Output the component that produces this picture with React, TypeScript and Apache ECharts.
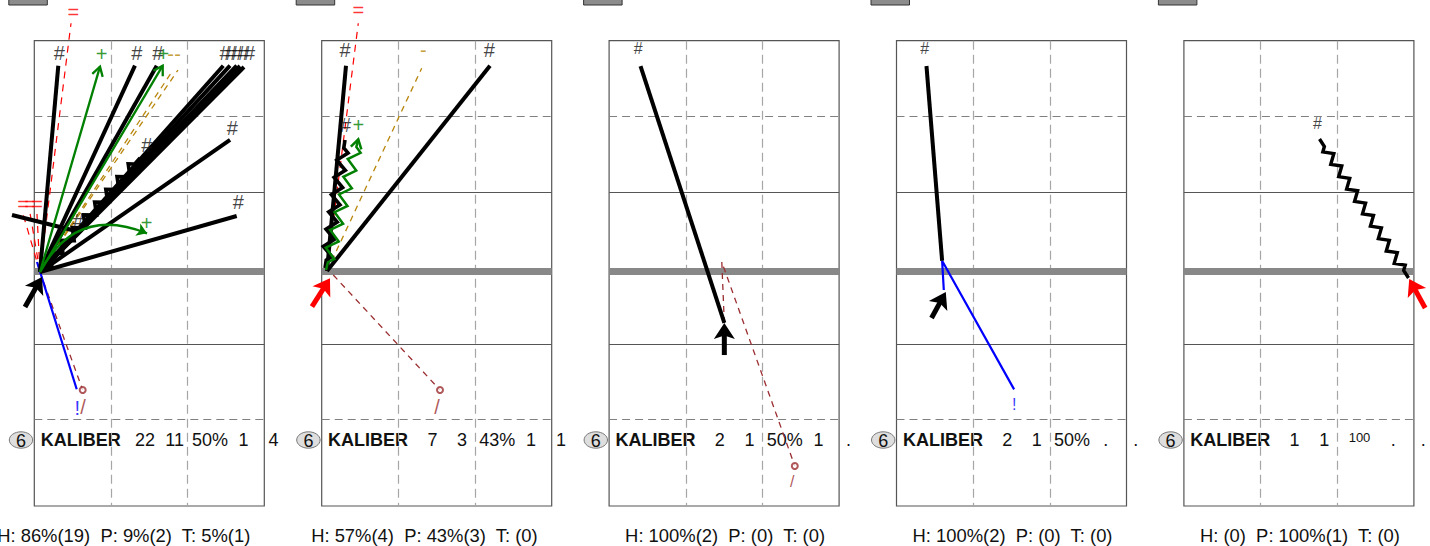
import React, { useEffect, useRef } from 'react';
import * as echarts from 'echarts';

// ---------- data ----------
const PLAYER = 'KALIBER';
const JERSEY = '6';
const STAT_ROWS = [
  ['22', '11', '50%', '1', '4'],
  ['7', '3', '43%', '1', '1'],
  ['2', '1', '50%', '1', '.'],
  ['2', '1', '50%', '.', '.'],
  ['1', '1', '100', '.', '.'],
];
const FOOTERS = [
  'H: 86%(19)  P: 9%(2)  T: 5%(1)',
  'H: 57%(4)  P: 43%(3)  T: (0)',
  'H: 100%(2)  P: (0)  T: (0)',
  'H: 100%(2)  P: (0)  T: (0)',
  'H: (0)  P: 100%(1)  T: (0)',
];
const COURT_X_MAX = 3;
const COURT_Y_MAX = 6.14;
const DASHED_COURT_Y = [1, 5];
const SOLID_COURT_Y = [2, 4];
const GOAL_LINE_Y = [3.045];

// [panel, x0, y0, x1, y1]
const GOAL_SHOTS = [
  [0, 0.074, 3.052, 0.313, 0.33],
  [0, 0.074, 3.052, 1.313, 0.33],
  [0, 0.074, 3.052, 1.597, 0.33],
  [0, 0.074, 3.052, 2.465, 0.33],
  [0, 0.074, 3.052, 2.553, 0.33],
  [0, 0.074, 3.052, 2.64, 0.33],
  [0, 0.074, 3.052, 2.683, 0.334],
  [0, 0.074, 3.052, 2.735, 0.347],
  [0, 0.074, 3.052, 2.553, 1.31],
  [0, 0.074, 3.052, 2.64, 2.313],
  [0, -0.291, 2.3, 0.596, 2.524],
  [1, 0.069, 3.039, 0.317, 0.33],
  [1, 0.069, 3.039, 2.195, 0.33],
  [2, 1.503, 3.725, 0.41, 0.334],
  [3, 0.595, 2.904, 0.391, 0.334],
];
const GOAL_ZIGZAGS = [
  [0, 0.074, 3.052, 1.379, 1.548],
  [1, 0.043, 3.0, 0.304, 1.31],
  [4, 2.93, 3.131, 1.769, 1.297],
];
const GREEN_ZIGZAGS = [[1, 0.056, 3.026, 0.477, 1.301]];
const GREEN_ARROWS = [
  [0, 0.074, 3.052, 0.857, 0.343],
  [0, 0.074, 3.052, 1.675, 0.33],
];
const GREEN_CURVES = [[0, 0.074, 3.052, 1.47, 2.542]];
const GOLD_DASHED = [
  [0, 0.074, 3.052, 1.809, 0.387],
  [0, 0.074, 3.052, 1.874, 0.387],
  [1, 0.069, 3.039, 1.304, 0.364],
];
const RED_DASHED = [
  [0, 0.074, 3.052, 0.479, -0.23],
  [0, 0.074, 3.052, -0.147, 2.287],
  [0, 0.074, 3.052, -0.056, 2.274],
  [0, 0.074, 3.052, 0.035, 2.287],
  [1, 0.069, 3.039, 0.477, -0.23],
];
// [panel, points]
const BLUE_PASSES = [
  [0, [[0.035, 2.92], [0.553, 4.6]]],
  [3, [[0.617, 3.29], [0.595, 2.904], [1.534, 4.601]]],
];
const BROWN_DASHED = [
  [0, [[0.074, 3.052], [0.631, 4.609]]],
  [1, [[0.151, 3.092], [1.543, 4.609]]],
  [2, [[1.503, 3.725], [1.47, 2.92], [2.422, 5.612]]],
];
const SHOOTER_ARROWS_BLACK = [
  [0, -0.121, 3.514, 0.1, 3.118],
  [2, 1.503, 4.148, 1.503, 3.725],
  [3, 0.457, 3.659, 0.643, 3.316],
];
const SHOOTER_ARROWS_RED = [
  [1, -0.127, 3.51, 0.108, 3.135],
  [4, 3.147, 3.527, 2.939, 3.144],
];
// [panel, x, y, text]
const MARK_LABELS = [
  [0, 0.326, 0.162, '#'], [0, 0.879, 0.179, '+'], [0, 1.336, 0.162, '#'], [0, 1.61, 0.162, '#'],
  [0, 1.683, 0.176, '+'], [0, 1.777, 0.176, '-'], [0, 1.868, 0.176, '-'],
  [0, 2.487, 0.156, '#'], [0, 2.566, 0.156, '#'], [0, 2.644, 0.156, '#'], [0, 2.729, 0.156, '#'], [0, 2.807, 0.156, '#'],
  [0, 1.466, 1.376, '#'], [0, 2.583, 1.148, '#'], [0, 2.661, 2.125, '#'], [0, 0.57, 2.379, '#'],
  [0, 1.466, 2.41, '+'], [0, 0.509, -0.375, '='], [0, -0.147, 2.155, '='], [0, -0.056, 2.155, '='],
  [0, 0.035, 2.155, '='], [0, 0.561, 4.847, '!'], [0, 0.637, 4.84, '/'],
  [1, 0.304, 0.123, '#'], [1, 2.186, 0.123, '#'], [1, 1.325, 0.123, '-'], [1, 0.477, -0.4, '='],
  [1, 0.31, 1.112, '#'], [1, 0.477, 1.112, '+'], [1, 1.504, 4.834, '/'],
  [2, 0.378, 0.106, '#'], [2, 2.387, 5.823, '/'],
  [3, 0.369, 0.106, '#'], [3, 1.534, 4.807, '!'],
  [4, 1.743, 1.091, '#'],
];

// ---------- styles / layout ----------
const FONT = "'Liberation Sans', Arial, Helvetica, sans-serif";
const LEFT0 = 34.3;
const STEP = 287.4;
const TOP = 40.7;
const BOX_W = 230;
const BOX_H = 465.3;
const GREEN = '#008000';
const GOLD = '#B8860B';
const RED = '#FF0000';
const BLUE = '#0000FF';
const BROWN = '#9B2D30';
const LABEL_COLORS: any = { '#': '#111', '+': GREEN, '-': GOLD, '=': RED, '!': BLUE, '/': BROWN };
const STAT_OFFSETS = [110.7, 140.3, 175.6, 209.3, 239.3];

function geom(api: any) {
  const a = api.coord([api.value(0), api.value(1)]);
  const b = api.coord([api.value(2), api.value(3)]);
  const dx = b[0] - a[0];
  const dy = b[1] - a[1];
  const len = Math.hypot(dx, dy) || 1;
  const ux = dx / len, uy = dy / len, nx = -uy, ny = ux;
  const at = (s: number, o: number) => [a[0] + ux * s + nx * o, a[1] + uy * s + ny * o];
  return { len, at };
}

function zigzagRender(color: string, width: number, amp: number, half: number, lead: number, head: number) {
  return (params: any, api: any) => {
    const { len, at } = geom(api);
    const body = Math.max(len - 2 * lead, 1);
    const n = Math.max(2, Math.round(body / half));
    const step = body / n;
    const pts: any[] = [at(0, 0), at(lead, 0)];
    for (let k = 0; k < n; k++) pts.push(at(lead + (k + 0.5) * step, (k % 2 === 0 ? 1 : -1) * amp));
    pts.push(at(len - lead, 0), at(len, 0));
    const children: any[] = [
      { type: 'polyline', shape: { points: pts }, style: { stroke: color, lineWidth: width, fill: 'none', lineJoin: 'miter' } },
    ];
    if (head > 0) {
      children.push({
        type: 'polyline',
        shape: { points: [at(len - head, head * 0.6), at(len, 0), at(len - head, -head * 0.6)] },
        style: { stroke: color, lineWidth: width, fill: 'none' },
      });
    }
    return { type: 'group', children };
  };
}

function chevronArrowRender(color: string, width: number, head: number) {
  return (params: any, api: any) => {
    const { len, at } = geom(api);
    const p0 = at(0, 0), p1 = at(len, 0);
    return {
      type: 'group',
      children: [
        { type: 'line', shape: { x1: p0[0], y1: p0[1], x2: p1[0], y2: p1[1] }, style: { stroke: color, lineWidth: width } },
        {
          type: 'polyline',
          shape: { points: [at(len - head, head * 0.6), p1, at(len - head, -head * 0.6)] },
          style: { stroke: color, lineWidth: width, fill: 'none' },
        },
      ],
    };
  };
}

function bigArrowRender(color: string) {
  const hl = 16, hw = 10.5, notch = 0.22;
  return (params: any, api: any) => {
    const { len, at } = geom(api);
    const p0 = at(0, 0), p1 = at(len - hl * 0.6, 0);
    return {
      type: 'group',
      children: [
        { type: 'line', shape: { x1: p0[0], y1: p0[1], x2: p1[0], y2: p1[1] }, style: { stroke: color, lineWidth: 5 } },
        {
          type: 'polygon',
          shape: { points: [at(len, 0), at(len - hl, hw), at(len - hl * (1 - notch), 0), at(len - hl, -hw)] },
          style: { fill: color },
        },
      ],
    };
  };
}

function buildOption() {
  const grid: any[] = [];
  const xAxis: any[] = [];
  const yAxis: any[] = [];
  const series: any[] = [];
  const graphic: any[] = [];

  for (let i = 0; i < 5; i++) {
    const L = LEFT0 + STEP * i;
    grid.push({ left: L, top: TOP, width: BOX_W, height: BOX_H, show: true, borderColor: '#555', borderWidth: 1.2, backgroundColor: 'transparent' });
    xAxis.push({
      gridIndex: i, type: 'value', min: 0, max: COURT_X_MAX, interval: 1,
      axisLine: { show: false }, axisTick: { show: false }, axisLabel: { show: false },
      splitLine: { show: true, showMinLine: false, showMaxLine: false, lineStyle: { color: '#a6a6a6', width: 1.2, type: [9, 5] } },
    });
    yAxis.push({
      gridIndex: i, type: 'value', min: 0, max: COURT_Y_MAX, inverse: true,
      axisLine: { show: false }, axisTick: { show: false }, axisLabel: { show: false }, splitLine: { show: false },
    });

    const ax = { xAxisIndex: i, yAxisIndex: i };
    const pick = (rows: any[]) => rows.filter((r) => r[0] === i);
    const court = (y: number) => ({ coords: [[0, y], [COURT_X_MAX, y]] });
    const linesBase = { type: 'lines', coordinateSystem: 'cartesian2d', ...ax, silent: true, clip: false, symbol: 'none' };
    const seg = (r: any) => ({ coords: [[r[1], r[2]], [r[3], r[4]]] });

    series.push({ ...linesBase, z: 1, lineStyle: { color: '#808080', width: 1, type: [8, 5], opacity: 1 }, data: DASHED_COURT_Y.map(court) });
    series.push({ ...linesBase, z: 1, lineStyle: { color: '#555', width: 1.2, opacity: 1 }, data: SOLID_COURT_Y.map(court) });
    series.push({ ...linesBase, z: 1, lineStyle: { color: '#888', width: 7, opacity: 1 }, data: GOAL_LINE_Y.map(court) });

    series.push({ ...linesBase, z: 2, lineStyle: { color: RED, width: 1.2, type: [7, 6], opacity: 1 }, data: pick(RED_DASHED).map(seg) });
    series.push({ ...linesBase, z: 2, lineStyle: { color: GOLD, width: 1.3, type: [6, 5], opacity: 1 }, data: pick(GOLD_DASHED).map(seg) });
    series.push({ ...linesBase, z: 2, polyline: true, lineStyle: { color: BROWN, width: 1.3, type: [6, 5], opacity: 1 }, data: pick(BROWN_DASHED).map((r) => ({ coords: r[1] })) });
    series.push({
      type: 'scatter', ...ax, silent: true, clip: false, z: 2, symbol: 'emptyCircle', symbolSize: 6,
      itemStyle: { color: BROWN, borderWidth: 1 },
      data: pick(BROWN_DASHED).map((r) => r[1][r[1].length - 1]),
    });
    series.push({ ...linesBase, z: 2, polyline: true, lineStyle: { color: BLUE, width: 2.2, opacity: 1 }, data: pick(BLUE_PASSES).map((r) => ({ coords: r[1] })) });

    series.push({ ...linesBase, z: 3, lineStyle: { color: '#000', width: 4, opacity: 1 }, data: pick(GOAL_SHOTS).map(seg) });
    series.push({
      type: 'custom', coordinateSystem: 'cartesian2d', ...ax, silent: true, clip: false, z: 3,
      encode: { x: [0, 2], y: [1, 3] },
      renderItem: i === 4 ? zigzagRender('#000', 3.4, 4.2, 7.5, 9, 0) : zigzagRender('#000', 3.6, 5, 8.5, 8, 0),
      data: pick(GOAL_ZIGZAGS).map((r) => r.slice(1)),
    });

    series.push({
      type: 'custom', coordinateSystem: 'cartesian2d', ...ax, silent: true, clip: false, z: 4,
      encode: { x: [0, 2], y: [1, 3] },
      renderItem: zigzagRender(GREEN, 2.5, 5.5, 9, 8, 9),
      data: pick(GREEN_ZIGZAGS).map((r) => r.slice(1)),
    });
    series.push({
      type: 'custom', coordinateSystem: 'cartesian2d', ...ax, silent: true, clip: false, z: 4,
      encode: { x: [0, 2], y: [1, 3] },
      renderItem: chevronArrowRender(GREEN, 2.3, 9),
      data: pick(GREEN_ARROWS).map((r) => r.slice(1)),
    });
    series.push({
      ...linesBase, z: 4, symbol: ['none', 'arrow'], symbolSize: 10,
      lineStyle: { color: GREEN, width: 2.5, opacity: 1, curveness: 0.45 },
      data: pick(GREEN_CURVES).map(seg),
    });

    series.push({
      type: 'custom', coordinateSystem: 'cartesian2d', ...ax, silent: true, clip: false, z: 5,
      encode: { x: [0, 2], y: [1, 3] },
      renderItem: bigArrowRender('#000'),
      data: pick(SHOOTER_ARROWS_BLACK).map((r) => r.slice(1)),
    });
    series.push({
      type: 'custom', coordinateSystem: 'cartesian2d', ...ax, silent: true, clip: false, z: 5,
      encode: { x: [0, 2], y: [1, 3] },
      renderItem: bigArrowRender('#FF0000'),
      data: pick(SHOOTER_ARROWS_RED).map((r) => r.slice(1)),
    });

    series.push({
      type: 'scatter', ...ax, silent: true, clip: false, z: 6, symbol: 'circle', symbolSize: 1,
      itemStyle: { color: 'rgba(0,0,0,0)' },
      label: { show: true, position: 'inside', formatter: '{b}', fontFamily: FONT, fontSize: i < 2 ? 20 : 16 },
      data: pick(MARK_LABELS).map((r) => ({ name: r[3], value: [r[1], r[2]], label: { color: LABEL_COLORS[r[3]] } })),
    });

    // decorations and texts
    graphic.push({ type: 'rect', silent: true, shape: { x: L - 25.5, y: -10, width: 38.5, height: 15 }, style: { fill: '#8c8c8c', stroke: '#333', lineWidth: 1 } });
    graphic.push({ type: 'ellipse', silent: true, shape: { cx: L - 13.3, cy: 440, rx: 11.7, ry: 8.2 }, style: { fill: '#dedede', stroke: '#777', lineWidth: 1 } });
    const txt = (x: number, y: number, text: string, size: number, align: string, weight = 'normal') => ({
      type: 'text', silent: true, x, y,
      style: { text, fill: '#111', font: `${weight} ${size}px ${FONT}`, textAlign: align, textVerticalAlign: 'middle', align, verticalAlign: 'middle' },
    });
    graphic.push(txt(L - 13.3, 440.5, JERSEY, 18, 'center'));
    graphic.push(txt(L + 6.4, 440.4, PLAYER, 18, 'left', 'bold'));
    STAT_ROWS[i].forEach((s, k) => {
      if (s === '100') graphic.push(txt(L + STAT_OFFSETS[k], 437.5, s, 13, 'center'));
      else graphic.push(txt(L + STAT_OFFSETS[k], 440.4, s, 18, 'center'));
    });
    graphic.push(txt(L + BOX_W - 14, 535, FOOTERS[i], 18.4, 'right'));
  }

  return { animation: false, grid, xAxis, yAxis, series, graphic };
}

export default function App() {
  const ref = useRef<HTMLDivElement>(null);
  useEffect(() => {
    if (!ref.current) return;
    const chart = echarts.init(ref.current, undefined, { renderer: 'svg' });
    chart.setOption(buildOption() as any);
    return () => chart.dispose();
  }, []);
  return <div ref={ref} style={{ position: 'fixed', left: 0, top: 0, width: 1430, height: 546, background: '#fff' }} />;
}
